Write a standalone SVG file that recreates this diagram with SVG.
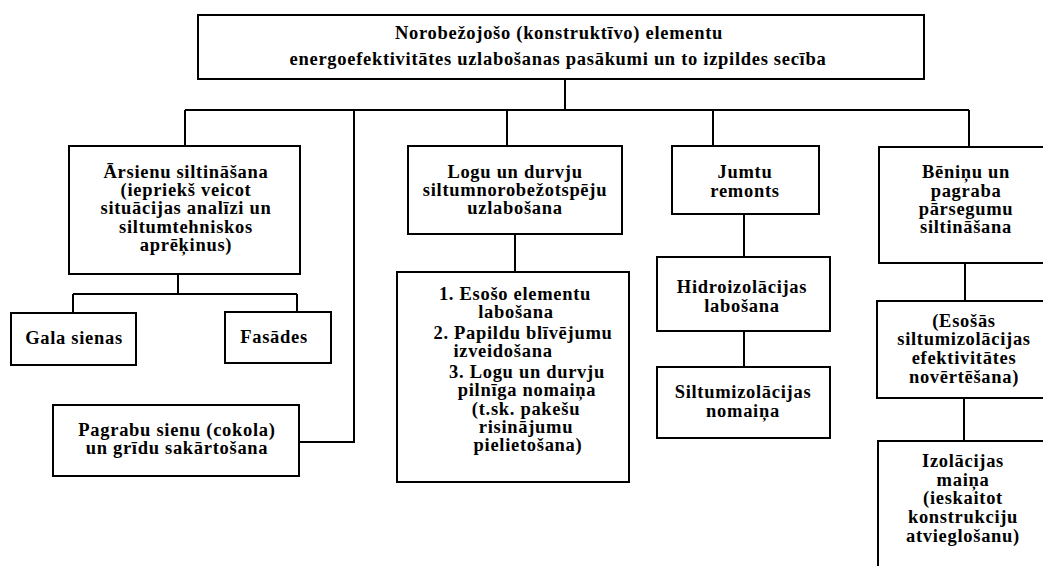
<svg xmlns="http://www.w3.org/2000/svg" width="1043" height="566" viewBox="0 0 1043 566">
<style>
.box{fill:#fff;stroke:#000;stroke-width:2}
.ln{fill:none;stroke:#000;stroke-width:2}
text{font-family:"Liberation Serif","Times New Roman",serif;font-weight:bold;font-size:18.5px;letter-spacing:0.7px;fill:#000;text-anchor:middle}
</style>
<rect width="1043" height="566" fill="#fff"/>
<g id="connectors">
<path class="ln" d="M565 79V110M185 110H969M185 110V146M507 110V146M713 110V146M969 110V146"/>
<path class="ln" d="M354 110V442H299"/>
<path class="ln" d="M178 274V294M73 294H297M73 294V313M297 294V312"/>
<path class="ln" d="M515 234V272"/>
<path class="ln" d="M744 214V257M744 331V367"/>
<path class="ln" d="M965 263V301M964 398V441"/>
</g>
<g id="root">
<rect class="box" x="198" y="15" width="726" height="64"/>
<text x="559" y="39">Norobežojošo (konstruktīvo) elementu</text>
<text x="558" y="65">energoefektivitātes uzlabošanas pasākumi un to izpildes secība</text>
</g>
<g id="arsienu">
<rect class="box" x="69" y="146" width="231" height="128"/>
<text x="186" y="178">Ārsienu siltināšana</text>
<text x="186" y="196">(iepriekš veicot</text>
<text x="186" y="214">situācijas analīzi un</text>
<text x="186" y="233">siltumtehniskos</text>
<text x="186" y="251">aprēķinus)</text>
</g>
<g id="gala">
<rect class="box" x="11" y="313" width="125" height="52"/>
<text x="74" y="344">Gala sienas</text>
</g>
<g id="fasades">
<rect class="box" x="225" y="312" width="106" height="51"/>
<text x="274" y="343">Fasādes</text>
</g>
<g id="pagrabu">
<rect class="box" x="53" y="405" width="246" height="71"/>
<text x="177" y="436">Pagrabu sienu (cokola)</text>
<text x="177" y="454">un grīdu sakārtošana</text>
</g>
<g id="logu">
<rect class="box" x="408" y="146" width="214" height="88"/>
<text x="515" y="178">Logu un durvju</text>
<text x="515" y="196">siltumnorobežotspēju</text>
<text x="515" y="214">uzlabošana</text>
</g>
<g id="logu-list">
<rect class="box" x="397" y="272" width="232" height="210"/>
<text x="515" y="300">1. Esošo elementu</text>
<text x="516" y="318">labošana</text>
<text x="523" y="339">2. Papildu blīvējumu</text>
<text x="503" y="357">izveidošana</text>
<text x="527" y="378">3. Logu un durvju</text>
<text x="527" y="396">pilnīga nomaiņa</text>
<text x="526" y="415">(t.sk. pakešu</text>
<text x="526" y="433">risinājumu</text>
<text x="528" y="451">pielietošana)</text>
</g>
<g id="jumtu">
<rect class="box" x="672" y="146" width="147" height="68"/>
<text x="745" y="178">Jumtu</text>
<text x="745" y="197">remonts</text>
</g>
<g id="hidro">
<rect class="box" x="657" y="257" width="173" height="74"/>
<text x="742" y="293">Hidroizolācijas</text>
<text x="742" y="312">labošana</text>
</g>
<g id="siltum">
<rect class="box" x="657" y="367" width="173" height="71"/>
<text x="743" y="398">Siltumizolācijas</text>
<text x="743" y="417">nomaiņa</text>
</g>
<g id="beninu">
<rect class="box" x="879" y="147" width="170" height="116"/>
<text x="966" y="178">Bēniņu un</text>
<text x="966" y="197">pagraba</text>
<text x="966" y="215">pārsegumu</text>
<text x="966" y="233">siltināšana</text>
</g>
<g id="esosas">
<rect class="box" x="877" y="301" width="172" height="97"/>
<text x="964" y="327">(Esošās</text>
<text x="964" y="345">siltumizolācijas</text>
<text x="964" y="364">efektivitātes</text>
<text x="964" y="383">novērtēšana)</text>
</g>
<g id="izolacijas">
<rect class="box" x="878" y="441" width="171" height="140"/>
<text x="963" y="467">Izolācijas</text>
<text x="963" y="486">maiņa</text>
<text x="963" y="504">(ieskaitot</text>
<text x="963" y="523">konstrukciju</text>
<text x="963" y="542">atvieglošanu)</text>
</g>
</svg>
